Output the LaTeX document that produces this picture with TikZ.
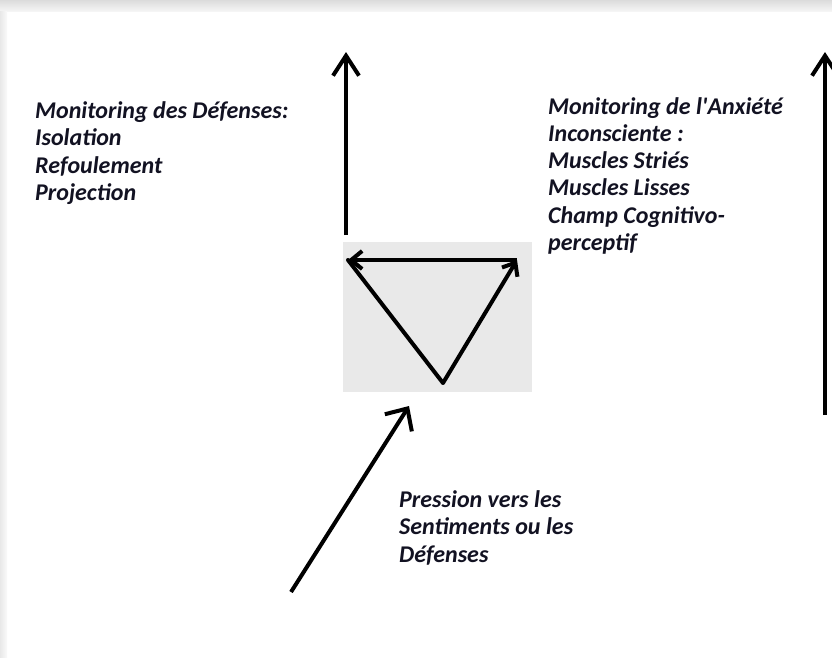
\documentclass[tikz,border=0pt]{standalone}
\usepackage{fontspec}
\newfontfamily\labelfont{Carlito}
\usetikzlibrary{arrows.meta}
\definecolor{boxgray}{RGB}{233,233,233}
\definecolor{inkc}{RGB}{18,18,34}

\begin{document}
\begin{tikzpicture}[x=1pt, y=-1pt,
    txt/.style={font=\labelfont\bfseries\itshape\fontsize{24}{27.3}\selectfont, align=left, anchor=north west, inner sep=0pt, text=inkc},
    bigarrow/.style={line width=4pt, -{Straight Barb[length=20pt, width=26pt]}},
    slantarrow/.style={line width=4pt, -{Straight Barb[length=17pt, width=32pt]}},
    triarrow/.style={line width=4pt, -{Straight Barb[length=11pt, width=18pt]}}]
				\useasboundingbox (0,0) rectangle (832,657);
				% window shadow
				\shade[top color=black!14, bottom color=black!4] (0,0) rectangle (832,11);
				\shade[left color=black!9, right color=black!2] (0,11) rectangle (7,657);

				\node[fill=boxgray, minimum width=189pt, minimum height=150pt, inner sep=0pt] (box) at (437.5,317) {};

				\coordinate (defFoot) at (346,235);
				\coordinate (defHead) at (346,52);
				\coordinate (anxFoot) at (825,415);
				\coordinate (anxHead) at (825,52);
				\coordinate (presFoot) at (291,592);
				\coordinate (presHead) at (409,406);

				\coordinate (triL) at (348,260);
				\coordinate (triR) at (517,260);
				\coordinate (triB) at (443,383);

				\node[txt] (defenses) at (35,101.5) {Monitoring des Défenses:\\Isolation\\Refoulement\\Projection};
				\node[txt] (anxiete) at (548,97) {Monitoring de l'Anxiété\\Inconsciente :\\Muscles Striés\\Muscles Lisses\\Champ Cognitivo-\\perceptif};
				\node[txt] (pression) at (399,490.5) {Pression vers les\\Sentiments ou les\\Défenses};

				\draw[bigarrow] (defFoot) -- (defHead);
				\draw[bigarrow] (anxFoot) -- (anxHead);
				\draw[slantarrow] (presFoot) -- (presHead);

				\draw[triarrow] (triB) -- (triR);
				\draw[triarrow] (triR) -- (triL);
				\draw[line width=4pt, line cap=round] (triL) -- (triB);
\end{tikzpicture}
\end{document}
